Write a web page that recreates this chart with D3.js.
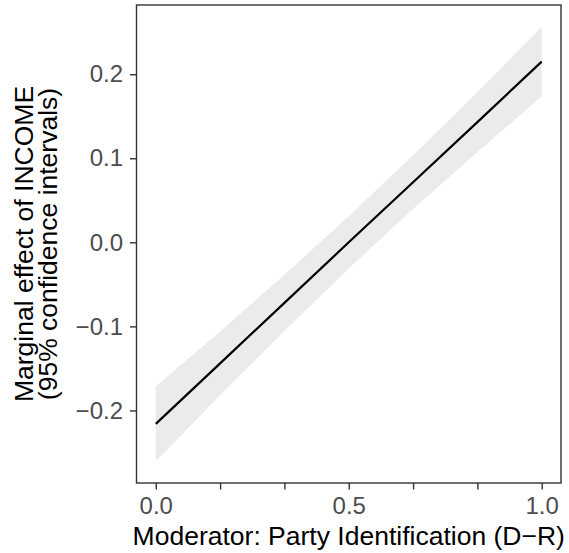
<!DOCTYPE html>
<html>
<head>
<meta charset="utf-8">
<script src="https://cdn.jsdelivr.net/npm/d3@7"></script>
<style>
  body { margin: 0; background: #fff; }
  text { font-family: "Liberation Sans", Arial, sans-serif; }
</style>
</head>
<body>
<div id="chart"></div>
<script>
const height = 553,
    width = 569,
    margin = ({ top: 5, right: 8, bottom: 70, left: 136.5 });

// moderator values (party ID, 7-point scale rescaled 0-1)
const moderator = [0, 1/6, 2/6, 3/6, 4/6, 5/6, 1];
// marginal effect estimate and 95% CI bounds
const effect = [-0.216, -0.144, -0.072, 0.000, 0.0715, 0.143, 0.215];
const lower  = [-0.2605, -0.182, -0.1055, -0.031, 0.0395, 0.1075, 0.1735];
const upper  = [-0.1715, -0.106, -0.0385, 0.031, 0.1035, 0.1785, 0.2565];

const xTicks = [0, 1/6, 2/6, 3/6, 4/6, 5/6, 1];
const xLabels = ["0.0", "", "", "0.5", "", "", "1.0"];
const yTicks = [-0.2, -0.1, 0.0, 0.1, 0.2];

const data = moderator.map((m, i) => ({ m: m, est: effect[i], lo: lower[i], hi: upper[i] }));

const svg = d3.select("#chart")
    .append("svg")
    .attr("width", width)
    .attr("height", height);

// ggplot-style 5% expansion
let x = d3.scaleLinear()
    .domain([-0.05, 1.05])
    .range([margin.left, width - margin.right]);

let yMin = d3.min(lower), yMax = d3.max(upper), pad = (yMax - yMin) * 0.05;
let y = d3.scaleLinear()
    .domain([yMin - pad, yMax + pad])
    .range([height - margin.bottom, margin.top]);

// confidence band
let area = d3.area()
    .x(d => x(d.m))
    .y0(d => y(d.lo))
    .y1(d => y(d.hi));

svg.append("path")
    .datum(data)
    .attr("d", area)
    .attr("fill", "#EBEBEB");

// estimate line
let line = d3.line()
    .x(d => x(d.m))
    .y(d => y(d.est));

svg.append("path")
    .datum(data)
    .attr("d", line)
    .attr("fill", "none")
    .attr("stroke", "#000")
    .attr("stroke-width", 2.2);

// panel border
svg.append("rect")
    .attr("x", margin.left)
    .attr("y", margin.top)
    .attr("width", width - margin.right - margin.left)
    .attr("height", height - margin.bottom - margin.top)
    .attr("fill", "none")
    .attr("stroke", "#333333")
    .attr("stroke-width", 1.4);

// axes
svg.append("g")
    .attr("class", "x-axis")
    .attr("transform", `translate(0,${height - margin.bottom})`)
    .call(d3.axisBottom(x).tickValues(xTicks).tickSize(6.5).tickSizeOuter(0).tickPadding(7)
        .tickFormat((d, i) => xLabels[i]));

svg.append("g")
    .attr("class", "y-axis")
    .attr("transform", `translate(${margin.left},0)`)
    .call(d3.axisLeft(y).tickValues(yTicks).tickSize(6.5).tickSizeOuter(0).tickPadding(7)
        .tickFormat(d => d3.format(".1f")(d).replace("-", "\u2212")));

svg.selectAll(".x-axis .domain, .y-axis .domain").remove();
svg.selectAll(".tick line").attr("stroke", "#333333").attr("stroke-width", 1.4);
svg.selectAll(".tick text")
    .attr("fill", "#4D4D4D")
    .style("font-size", "24px")
    .style("font-family", "'Liberation Sans', Arial, sans-serif");

// axis titles
svg.append("text")
    .attr("class", "x-label")
    .attr("text-anchor", "middle")
    .attr("x", (margin.left + width - margin.right) / 2)
    .attr("y", 545)
    .style("font-size", "26.5px")
    .text("Moderator: Party Identification (D\u2212R)");

let yl = svg.append("text")
    .attr("class", "y-label")
    .attr("text-anchor", "middle")
    .attr("transform", `translate(33,${(margin.top + height - margin.bottom) / 2}) rotate(-90)`)
    .style("font-size", "26.5px");
yl.append("tspan").attr("x", 0).attr("y", 0).text("Marginal effect of INCOME");
yl.append("tspan").attr("x", 0).attr("y", 24).text("(95% confidence intervals)");
</script>
</body>
</html>
